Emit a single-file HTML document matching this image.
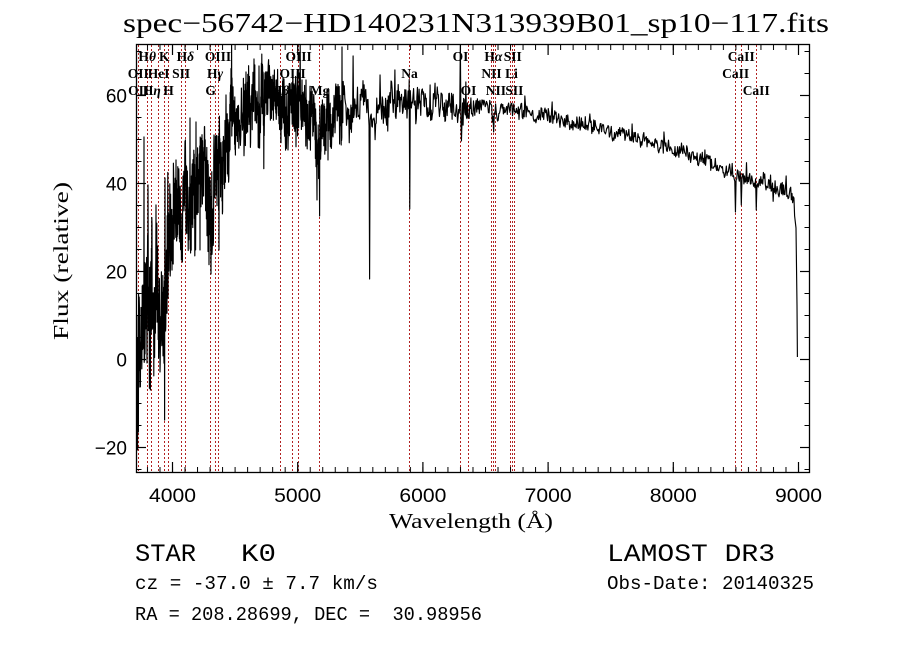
<!DOCTYPE html>
<html><head><meta charset="utf-8">
<style>html,body{margin:0;padding:0;background:#fff}svg{display:block}</style>
</head><body>
<svg id="s" width="900" height="649" viewBox="0 0 900 649" xmlns="http://www.w3.org/2000/svg">
<rect width="900" height="649" fill="#fff"/>
<defs>
<clipPath id="cp"><rect x="136" y="44" width="674" height="429"/></clipPath>
<pattern id="xt" patternUnits="userSpaceOnUse" x="146.96" y="0" width="12.52" height="649"><rect x="0" y="0" width="1" height="649" fill="#000"/></pattern>
<pattern id="yt" patternUnits="userSpaceOnUse" x="0" y="469" width="900" height="22"><rect x="0" y="0" width="900" height="1" fill="#000"/></pattern>
</defs>

<g stroke="#b22222" stroke-width="1" stroke-dasharray="2,2" fill="none">
<line x1="138.5" y1="45" x2="138.5" y2="472"/>
<line x1="147.5" y1="45" x2="147.5" y2="472"/>
<line x1="151.5" y1="45" x2="151.5" y2="472"/>
<line x1="158.5" y1="45" x2="158.5" y2="472"/>
<line x1="164.5" y1="45" x2="164.5" y2="472"/>
<line x1="168.5" y1="45" x2="168.5" y2="472"/>
<line x1="181.5" y1="45" x2="181.5" y2="472"/>
<line x1="185.5" y1="45" x2="185.5" y2="472"/>
<line x1="210.5" y1="45" x2="210.5" y2="472"/>
<line x1="215.5" y1="45" x2="215.5" y2="472"/>
<line x1="218.5" y1="45" x2="218.5" y2="472"/>
<line x1="280.5" y1="45" x2="280.5" y2="472"/>
<line x1="292.5" y1="45" x2="292.5" y2="472"/>
<line x1="298.5" y1="45" x2="298.5" y2="472"/>
<line x1="319.5" y1="45" x2="319.5" y2="472"/>
<line x1="409.5" y1="45" x2="409.5" y2="472"/>
<line x1="460.5" y1="45" x2="460.5" y2="472"/>
<line x1="468.5" y1="45" x2="468.5" y2="472"/>
<line x1="491.5" y1="45" x2="491.5" y2="472"/>
<line x1="493.5" y1="45" x2="493.5" y2="472"/>
<line x1="495.5" y1="45" x2="495.5" y2="472"/>
<line x1="510.5" y1="45" x2="510.5" y2="472"/>
<line x1="512.5" y1="45" x2="512.5" y2="472"/>
<line x1="514.5" y1="45" x2="514.5" y2="472"/>
<line x1="735.5" y1="45" x2="735.5" y2="472"/>
<line x1="741.5" y1="45" x2="741.5" y2="472"/>
<line x1="756.5" y1="45" x2="756.5" y2="472"/>
</g>

<g font-family="'Liberation Serif', serif" font-size="13.5" font-weight="bold" text-anchor="middle" fill="#000">
<text x="147.2" y="61">H<tspan font-style="italic">θ</tspan></text>
<text x="164.2" y="61">K</text>
<text x="185.3" y="61">H<tspan font-style="italic">δ</tspan></text>
<text x="218.0" y="61">OIII</text>
<text x="298.6" y="61">OIII</text>
<text x="460.5" y="61">OI</text>
<text x="493.4" y="61">H<tspan font-style="italic">α</tspan></text>
<text x="512.7" y="61">SII</text>
<text x="741.2" y="61">CaII</text>

<text x="138.3" y="78">OII</text>
<text x="158.6" y="78">HeI</text>
<text x="181.1" y="78">SII</text>
<text x="215.1" y="78">H<tspan font-style="italic">γ</tspan></text>
<text x="292.6" y="78">OIII</text>
<text x="409.5" y="78">Na</text>
<text x="491.5" y="78">NII</text>
<text x="511.5" y="78">Li</text>
<text x="735.6" y="78">CaII</text>

<text x="138.6" y="95">OII</text>
<text x="151.8" y="95">H<tspan font-style="italic">η</tspan></text>
<text x="168.5" y="95">H</text>
<text x="210.6" y="95">G</text>
<text x="280.3" y="95">H<tspan font-style="italic">β</tspan></text>
<text x="319.6" y="95">Mg</text>
<text x="468.5" y="95">OI</text>
<text x="495.9" y="95">NII</text>
<text x="514.4" y="95">SII</text>
<text x="756.2" y="95">CaII</text>
</g>

<polyline id="spec" clip-path="url(#cp)" fill="none" stroke="#000" stroke-width="1.15" stroke-linejoin="round" points=""/>

<rect x="136.5" y="44.5" width="673" height="428" fill="none" stroke="#000" stroke-width="1.3"/>

<rect x="137" y="467" width="672" height="5" fill="url(#xt)"/>
<rect x="137" y="45" width="672" height="5" fill="url(#xt)"/>
<rect x="137" y="45" width="4.5" height="427" fill="url(#yt)"/>
<rect x="804.5" y="45" width="4.5" height="427" fill="url(#yt)"/>

<g stroke="#000" stroke-width="1.2">
<line x1="172.5" y1="472" x2="172.5" y2="462"/><line x1="172.5" y1="45" x2="172.5" y2="55"/>
<line x1="297.7" y1="472" x2="297.7" y2="462"/><line x1="297.7" y1="45" x2="297.7" y2="55"/>
<line x1="422.9" y1="472" x2="422.9" y2="462"/><line x1="422.9" y1="45" x2="422.9" y2="55"/>
<line x1="548.1" y1="472" x2="548.1" y2="462"/><line x1="548.1" y1="45" x2="548.1" y2="55"/>
<line x1="673.3" y1="472" x2="673.3" y2="462"/><line x1="673.3" y1="45" x2="673.3" y2="55"/>
<line x1="798.5" y1="472" x2="798.5" y2="462"/><line x1="798.5" y1="45" x2="798.5" y2="55"/>
<line x1="137" y1="447.5" x2="146" y2="447.5"/><line x1="809" y1="447.5" x2="800" y2="447.5"/>
<line x1="137" y1="359.5" x2="146" y2="359.5"/><line x1="809" y1="359.5" x2="800" y2="359.5"/>
<line x1="137" y1="271.5" x2="146" y2="271.5"/><line x1="809" y1="271.5" x2="800" y2="271.5"/>
<line x1="137" y1="183.5" x2="146" y2="183.5"/><line x1="809" y1="183.5" x2="800" y2="183.5"/>
<line x1="137" y1="95.5" x2="146" y2="95.5"/><line x1="809" y1="95.5" x2="800" y2="95.5"/>
</g>

<g font-family="'Liberation Sans', sans-serif" font-size="19" fill="#000">
<text x="172.5" y="502" text-anchor="middle" textLength="47" lengthAdjust="spacingAndGlyphs">4000</text>
<text x="297.7" y="502" text-anchor="middle" textLength="47" lengthAdjust="spacingAndGlyphs">5000</text>
<text x="422.9" y="502" text-anchor="middle" textLength="47" lengthAdjust="spacingAndGlyphs">6000</text>
<text x="548.1" y="502" text-anchor="middle" textLength="47" lengthAdjust="spacingAndGlyphs">7000</text>
<text x="673.3" y="502" text-anchor="middle" textLength="47" lengthAdjust="spacingAndGlyphs">8000</text>
<text x="798.5" y="502" text-anchor="middle" textLength="47" lengthAdjust="spacingAndGlyphs">9000</text>
<text x="127" y="454.5" text-anchor="end">−20</text>
<text x="127" y="366.5" text-anchor="end">0</text>
<text x="127" y="278.5" text-anchor="end">20</text>
<text x="127" y="190.5" text-anchor="end">40</text>
<text x="127" y="102.5" text-anchor="end">60</text>
</g>

<text x="476" y="32" text-anchor="middle" font-family="'Liberation Serif', serif" font-size="27" textLength="706" lengthAdjust="spacingAndGlyphs">spec−56742−HD140231N313939B01_sp10−117.fits</text>
<text x="471" y="528" text-anchor="middle" font-family="'Liberation Serif', serif" font-size="21" textLength="164" lengthAdjust="spacingAndGlyphs">Wavelength (Å)</text>
<text transform="translate(68,261) rotate(-90)" text-anchor="middle" font-family="'Liberation Serif', serif" font-size="21" textLength="158" lengthAdjust="spacingAndGlyphs">Flux (relative)</text>

<g font-family="'Liberation Mono', monospace" fill="#000">
<text x="135" y="561" font-size="25" textLength="61" lengthAdjust="spacingAndGlyphs">STAR</text>
<text x="241" y="561" font-size="25" textLength="35" lengthAdjust="spacingAndGlyphs">K0</text>
<text x="607" y="561" font-size="25" style="white-space:pre" textLength="168" lengthAdjust="spacingAndGlyphs">LAMOST DR3</text>
<text x="135" y="589" font-size="19" style="white-space:pre" textLength="243" lengthAdjust="spacingAndGlyphs">cz = -37.0 ± 7.7 km/s</text>
<text x="607" y="589" font-size="19" style="white-space:pre" textLength="207" lengthAdjust="spacingAndGlyphs">Obs-Date: 20140325</text>
<text x="135" y="620" font-size="19" style="white-space:pre" textLength="347" lengthAdjust="spacingAndGlyphs">RA = 208.28699, DEC =  30.98956</text>
</g>
</svg>
<script>
(function(){
var s=24681;
function R(){ s=(s*16807)%2147483647; return (s-1)/2147483646; }
function I(T,x){ if(x<=T[0][0]) return T[0][1]; for(var i=0;i<T.length-1;i++){ if(x<=T[i+1][0]){ var t=(x-T[i][0])/(T[i+1][0]-T[i][0]); return T[i][1]+t*(T[i+1][1]-T[i][1]); } } return T[T.length-1][1]; }
var C=[[136,395],[140,370],[142,305],[146,292],[160,296],[167,280],[171,222],[180,208],[186,193],[195,182],[203,188],[208,208],[212,218],[216,195],[222,165],[228,135],[236,116],[250,104],[265,106],[279,112],[295,112],[310,118],[316,128],[320,140],[324,128],[332,115],[343,106],[369,104],[409,103],[440,104],[460,106],[480,108],[500,110],[530,113],[560,120],[590,126],[620,133],[650,142],[680,152],[700,160],[720,168],[740,178],[760,182],[780,186],[790,190],[795,205]];
var A=[[136,55],[146,55],[169,50],[172,45],[206,45],[214,50],[222,45],[228,36],[236,32],[316,30],[343,22],[369,17],[409,14],[460,12],[470,9],[560,8],[640,7],[700,8],[800,9]];
function ST(x){ return x<343?0.2:(x<470?0.55:0.65); }
var L=[]; for(var k=0;k<600;k++) L.push(R()*2-1);
var pts=[];
var x=136;
while(x<=795){
  var c=I(C,x), a=I(A,x);
  var u=x/2.2, kk=Math.floor(u), f=u-kk;
  var lf=L[kk%600]*(1-f)+L[(kk+1)%600]*f;
  var hf=R()*2-1;
  var v=(x<470?0.8*lf+1.0*hf:0.5*lf+0.9*hf); if(R()<0.05) v*=1.6;
  pts.push([x,c+a*v]);
  x+=ST(x);
}
var S=[[137.6,450],[138.4,432],[139.6,360],[144,137],[148,185],[150.4,390],[156,205],[160,372],[165,178],[169,240],[176,160],[182,255],[190,118],[196,122],[200,250],[211,274],[214,135],[219,250],[226,95],[232,78],[246,72],[254,59],[259,66],[263,72],[270,80],[283,78],[288,150],[300,72],[306,80],[317,200],[319.6,216],[328,160],[342,47],[353,56],[369.4,279],[380,75],[395,70],[409.6,209],[430,85],[460.4,44],[461.2,141],[466,82],[493.6,132],[525,96],[552,102],[590,114],[632,124],[664,132],[705,150],[735.6,212],[741.2,205],[756.4,210],[786,176]];
for(var j=0;j<S.length;j++){
  var best=0,bd=1e9;
  for(var m=0;m<pts.length;m++){ var d=Math.abs(pts[m][0]-S[j][0]); if(d<bd){bd=d;best=m;} }
  pts[best][1]=S[j][1];
}
pts.push([796,228],[797,305],[797.4,357]);
var str=[]; for(var q=0;q<pts.length;q++) str.push(pts[q][0].toFixed(2)+','+pts[q][1].toFixed(1));
document.getElementById('spec').setAttribute('points',str.join(' '));
})();
</script>
</body></html>
